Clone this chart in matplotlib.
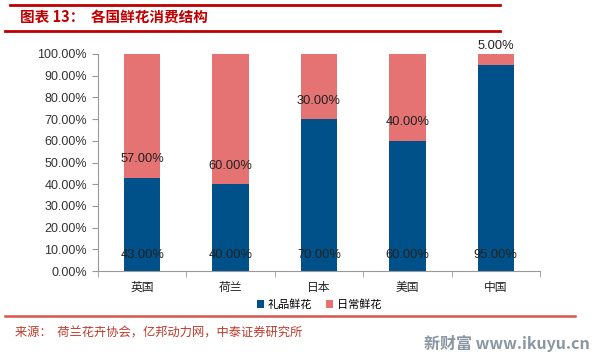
import matplotlib
matplotlib.use("Agg")
import matplotlib.pyplot as plt
from matplotlib.lines import Line2D
import numpy as np

plt.rcParams['font.family'] = ['Noto Sans CJK SC', 'DejaVu Sans']

categories = ['英国', '荷兰', '日本', '美国', '中国']
gift = [43, 40, 70, 60, 95]
daily = [57, 60, 30, 40, 5]
series_names = ['礼品鲜花', '日常鲜花']
yticks = [0, 10, 20, 30, 40, 50, 60, 70, 80, 90, 100]

W, H = 606, 357
fig = plt.figure(figsize=(W / 100, H / 100), dpi=100)
ax = fig.add_axes([98 / W, 1 - 271 / H, 442 / W, 217 / H])

blue = '#00518A'
pink = '#E57373'
x = np.arange(len(categories))
bw = 0.41
ax.bar(x, gift, bw, color=blue, label=series_names[0])
ax.bar(x, daily, bw, bottom=gift, color=pink, label=series_names[1])

lab_font = ['Liberation Sans', 'DejaVu Sans']
for i in range(len(categories)):
    ax.text(x[i], 7.5, f'{gift[i]:.2f}%', ha='center', va='center', fontsize=9.3,
            color='#222222', family=lab_font)
    ax.text(x[i], gift[i] + 8.5, f'{daily[i]:.2f}%', ha='center', va='center', fontsize=9.3,
            color='#222222', family=lab_font)

ax.set_xlim(-0.5, len(categories) - 0.5)
ax.set_ylim(0, 100)
ax.set_yticks(yticks)
ax.set_yticklabels([f'{v:.2f}%' for v in yticks], family=lab_font, fontsize=9, color='#333333')
ax.set_xticks(x)
ax.set_xticklabels(categories, fontsize=8.5, color='#222222')
ax.set_xticks(np.arange(len(categories) + 1) - 0.5, minor=True)
ax.tick_params(axis='x', which='major', length=0, pad=7)
ax.tick_params(axis='x', which='minor', length=4, color='#999999', direction='out')
ax.tick_params(axis='y', length=4, color='#999999', pad=4)
for s in ['top', 'right']:
    ax.spines[s].set_visible(False)
ax.spines['left'].set_color('#999999')
ax.spines['bottom'].set_color('#999999')

leg = ax.legend(loc='upper center', bbox_to_anchor=(0.5, -0.085), ncol=2, frameon=False,
                fontsize=8, handlelength=0.7, handleheight=0.7, handletextpad=0.3,
                columnspacing=1.2)

red = '#C00000'
fig.add_artist(Line2D([10 / W, 500 / W], [1 - 5 / H, 1 - 5 / H], color=red, lw=2))
fig.add_artist(Line2D([5 / W, 500 / W], [1 - 31 / H, 1 - 31 / H], color=red, lw=2))
fig.text(20 / W, 1 - 17 / H, '图表 13：  各国鲜花消费结构', color=red, fontsize=10.5,
         fontweight='bold', style='italic', va='center', ha='left')
fig.add_artist(Line2D([5 / W, 575 / W], [1 - 316 / H, 1 - 316 / H], color='#D9534F', lw=1.8))
fig.text(15 / W, 1 - 333 / H, '来源：  荷兰花卉协会，亿邦动力网，中泰证券研究所', color='#C0392B',
         fontsize=8.8, va='center', ha='left')
fig.text(424 / W, 1 - 343 / H, '新财富 www.ikuyu.cn', color='#8A97A3', fontsize=11.5,
         fontweight='bold', va='center', ha='left')

fig.savefig('out.png', dpi=100)
